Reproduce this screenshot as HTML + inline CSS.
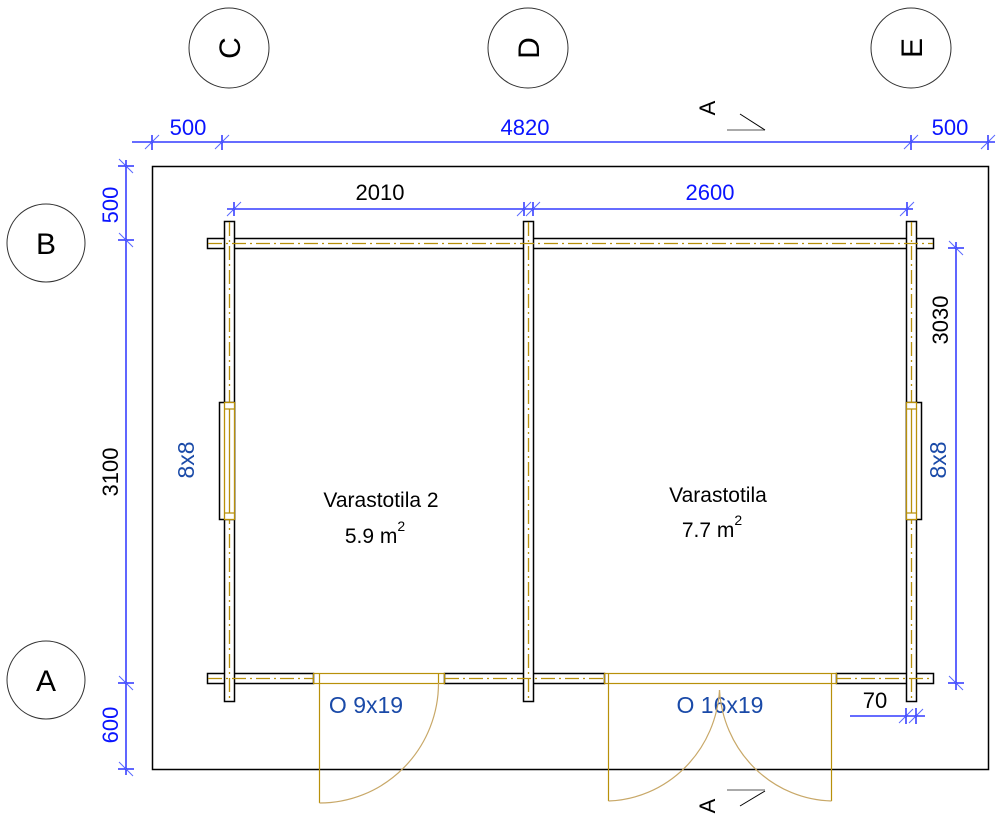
<!DOCTYPE html>
<html><head><meta charset="utf-8"><style>
html,body{margin:0;padding:0;background:#fff;}
svg{display:block;font-family:"Liberation Sans",Arial,sans-serif;}
</style></head><body>
<svg width="1005" height="828" viewBox="0 0 1005 828" xmlns="http://www.w3.org/2000/svg">
<g fill="none" stroke="#333" stroke-width="1">
<circle cx="229" cy="48" r="40"/>
<circle cx="528" cy="48" r="40"/>
<circle cx="911" cy="48" r="40"/>
<circle cx="46" cy="243" r="39"/>
<circle cx="46" cy="680" r="39"/>
</g>
<g font-size="30" fill="#000" text-anchor="middle">
<text transform="translate(240,48) rotate(-90)">C</text>
<text transform="translate(539,48) rotate(-90)">D</text>
<text transform="translate(922,48) rotate(-90)">E</text>
<text x="46" y="254">B</text>
<text x="46" y="691">A</text>
</g>
<g stroke="#000" stroke-width="1" fill="none">
<line x1="727" y1="130" x2="765" y2="130" stroke="#555"/>
<line x1="740" y1="114" x2="765" y2="130"/>
<line x1="727" y1="790" x2="765" y2="790" stroke="#aaa" stroke-width="2"/>
<line x1="740" y1="806" x2="765" y2="791"/>
</g>
<g font-size="22" fill="#000" text-anchor="middle">
<text transform="translate(715,108) rotate(-90)">A</text>
<text transform="translate(715,806) rotate(-90)">A</text>
</g>
<rect x="152.5" y="166.5" width="836" height="603" fill="none" stroke="#000" stroke-width="1.5"/>
<g stroke="#0a14ff" stroke-width="1.3" fill="none">
<line x1="132" y1="142" x2="995" y2="142"/>
<line x1="126" y1="160" x2="126" y2="775"/>
<line x1="227" y1="209" x2="913" y2="209"/>
<line x1="956" y1="242" x2="956" y2="690"/>
<line x1="850" y1="716" x2="925" y2="716"/>
<line x1="152" y1="135" x2="152" y2="150"/>
<line x1="222" y1="135" x2="222" y2="150"/>
<line x1="911" y1="135" x2="911" y2="150"/>
<line x1="988" y1="135" x2="988" y2="150"/>
<line x1="118" y1="166" x2="134" y2="166"/>
<line x1="118" y1="240" x2="134" y2="240"/>
<line x1="118" y1="683" x2="134" y2="683"/>
<line x1="118" y1="769" x2="134" y2="769"/>
<line x1="234" y1="202" x2="234" y2="216"/>
<line x1="524" y1="202" x2="524" y2="216"/>
<line x1="533" y1="202" x2="533" y2="216"/>
<line x1="907" y1="202" x2="907" y2="216"/>
<line x1="948" y1="248" x2="964" y2="248"/>
<line x1="948" y1="683" x2="964" y2="683"/>
<line x1="906" y1="708" x2="906" y2="724"/>
<line x1="916" y1="708" x2="916" y2="724"/>
</g>
<g stroke="#5a6aff" stroke-width="1" fill="none">
<path d="M145 149 l14 -14 M215 149 l14 -14 M904 149 l14 -14 M981 149 l14 -14"/>
<path d="M119 159 l14 14 M119 233 l14 14 M119 676 l14 14 M119 762 l14 14"/>
<path d="M227 216 l14 -14 M517 216 l14 -14 M526 216 l14 -14 M900 216 l14 -14"/>
<path d="M949 241 l14 14 M949 676 l14 14"/>
<path d="M899 723 l14 -14 M909 723 l14 -14"/>
</g>
<g font-size="22" fill="#0a14ff" text-anchor="middle">
<text x="188" y="135">500</text>
<text x="525" y="135">4820</text>
<text x="950" y="135">500</text>
<text transform="translate(118,205) rotate(-90)">500</text>
<text transform="translate(118,725) rotate(-90)">600</text>
<text x="710" y="200">2600</text>
</g>
<g font-size="22" fill="#000" text-anchor="middle">
<text transform="translate(118,472) rotate(-90)">3100</text>
<text transform="translate(948,320) rotate(-90)">3030</text>
<text x="380" y="200">2010</text>
<text x="875" y="708">70</text>
</g>
<g font-size="23" fill="#1a4aa8" text-anchor="middle">
<text transform="translate(194,460) rotate(-90)">8x8</text>
<text transform="translate(946,460) rotate(-90)">8x8</text>
<text x="366" y="713">O 9x19</text>
<text x="720" y="713">O 16x19</text>
</g>
<g font-size="21" fill="#000" text-anchor="middle">
<text x="381" y="507">Varastotila 2</text>
<text x="375" y="543">5.9 m<tspan font-size="14" dy="-12">2</tspan></text>
<text x="718" y="502">Varastotila</text>
<text x="712" y="537">7.7 m<tspan font-size="14" dy="-12">2</tspan></text>
</g>
<g fill="#fff" stroke="#000" stroke-width="1.5">
<rect x="207.5" y="238.5" width="726" height="10"/>
<rect x="207.5" y="673.5" width="106" height="10"/>
<rect x="444.5" y="673.5" width="160" height="10"/>
<rect x="836.5" y="673.5" width="97" height="10"/>
<rect x="224.5" y="221.5" width="10" height="480"/>
<rect x="523.5" y="221.5" width="10" height="480"/>
<rect x="906.5" y="221.5" width="10" height="480"/>
<rect x="219.5" y="402.5" width="15" height="117"/>
<rect x="906.5" y="402.5" width="15" height="117"/>
</g>
<g stroke="#b8900a" stroke-width="1.3" fill="none" stroke-dasharray="14 4 2 4">
<line x1="208" y1="243.5" x2="933" y2="243.5"/>
<line x1="208" y1="678.5" x2="313" y2="678.5"/>
<line x1="445" y1="678.5" x2="604" y2="678.5"/>
<line x1="837" y1="678.5" x2="933" y2="678.5"/>
<line x1="229.5" y1="222" x2="229.5" y2="701"/>
<line x1="528.5" y1="222" x2="528.5" y2="701"/>
<line x1="911.5" y1="222" x2="911.5" y2="701"/>
</g>
<g fill="#fff" stroke="#b8900a" stroke-width="1.3">
<rect x="224.5" y="402.5" width="10" height="117"/>
<rect x="906.5" y="402.5" width="10" height="117"/>
<path d="M224.5 409 h10 M224.5 513 h10 M229.5 409 v104 M906.5 409 h10 M906.5 513 h10 M911.5 409 v104" fill="none"/>
</g>
<g fill="none" stroke="#b8900a" stroke-width="1.2">
<rect x="313.5" y="673.5" width="131" height="10"/>
<path d="M319.5 673.5 v10 M438.5 673.5 v10"/>
<rect x="604.5" y="673.5" width="232" height="10"/>
<path d="M608.5 673.5 v10 M831.5 673.5 v10"/>
<line x1="319.5" y1="683" x2="319.5" y2="803"/>
<line x1="608.5" y1="683" x2="608.5" y2="801"/>
<line x1="831.5" y1="683" x2="831.5" y2="801"/>
</g>
<g fill="none" stroke="#c8a868" stroke-width="1.2">
<path d="M319.5 803 A119 120 0 0 0 438.5 683"/>
<path d="M608.5 801 A115 118 0 0 0 719.5 690"/>
<path d="M831.5 801 A115 118 0 0 1 719.5 690"/>
</g>
</svg>
</body></html>
